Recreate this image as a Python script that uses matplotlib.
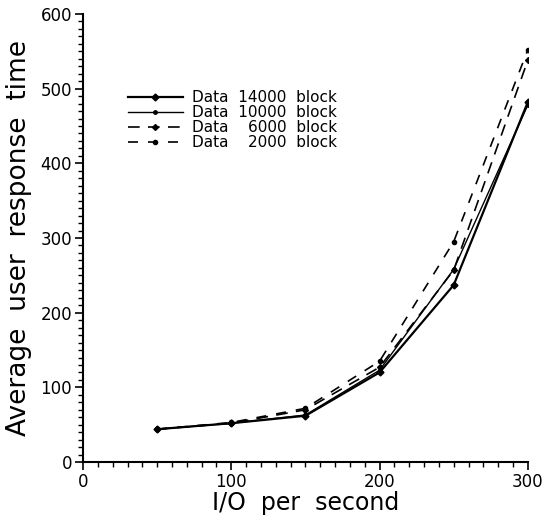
import matplotlib
matplotlib.use("Agg")
from matplotlib import pyplot as plt
from matplotlib.ticker import MultipleLocator

io_rate = [50, 100, 150, 200, 250, 300]
data_14000 = [44, 52, 62, 120, 237, 482]
data_10000 = [44, 52, 63, 123, 258, 478]
data_6000 = [44, 52, 70, 127, 257, 538]
data_2000 = [44, 53, 72, 135, 295, 552]

labels = ["Data  14000  block", "Data  10000  block", "Data    6000  block", "Data    2000  block"]

plt.rcParams['font.family'] = ['DejaVu Sans']

fig = plt.figure(figsize=(5.43, 5.18), dpi=100)
ax = fig.add_axes([0.153, 0.108, 0.819, 0.865])

ax.plot(io_rate, data_14000, color="black", lw=1.6, marker="D", ms=3.5, label=labels[0])
ax.plot(io_rate, data_10000, color="black", lw=1.0, marker="o", ms=2.5, label=labels[1])
ax.plot(io_rate, data_6000, color="black", lw=1.2, ls=(0, (7, 5)), marker="D", ms=3, label=labels[2])
ax.plot(io_rate, data_2000, color="black", lw=1.2, ls=(0, (6, 6)), marker="o", ms=3, label=labels[3])

ax.set_xlim(0, 300)
ax.set_ylim(0, 600)
ax.xaxis.set_major_locator(MultipleLocator(100))
ax.xaxis.set_minor_locator(MultipleLocator(10))
ax.yaxis.set_major_locator(MultipleLocator(100))
ax.yaxis.set_minor_locator(MultipleLocator(10))
ax.tick_params(which="major", length=6, width=1.2, labelsize=12, pad=2)
ax.tick_params(which="minor", length=3.5, width=1)
ax.spines["top"].set_visible(False)
ax.spines["right"].set_visible(False)
ax.spines["left"].set_linewidth(1.5)
ax.spines["bottom"].set_linewidth(1.5)

ax.set_xlabel("I/O  per  second", fontsize=17, labelpad=0)
ax.set_ylabel("Average  user  response  time", fontsize=19, labelpad=6)

ax.legend(loc="upper left", bbox_to_anchor=(0.07, 0.86), frameon=False, fontsize=11,
          handlelength=3.6, labelspacing=0.0, handletextpad=0.6)

fig.savefig("out.png", dpi=100)
